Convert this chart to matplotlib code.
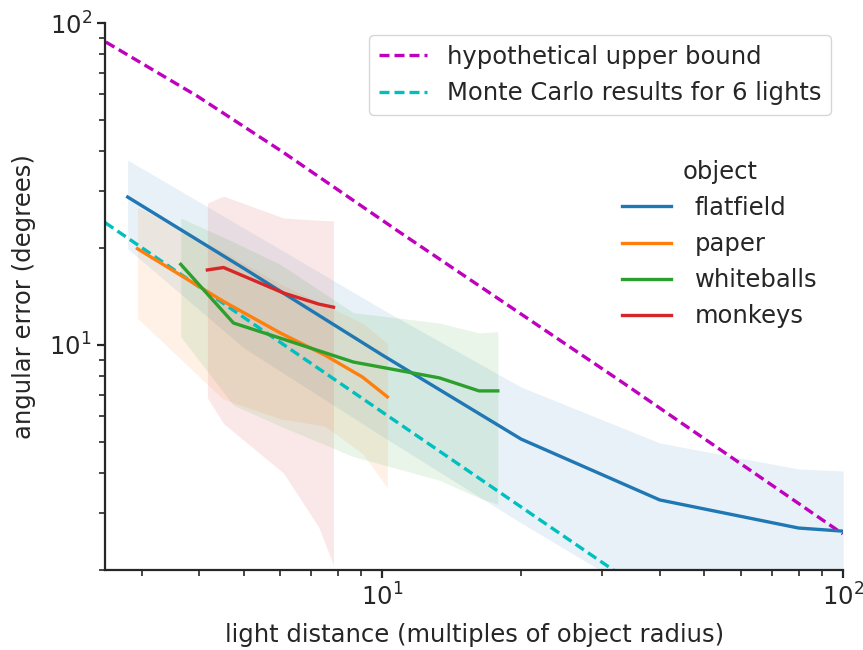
import numpy as np
import matplotlib
matplotlib.use("Agg")
import matplotlib.pyplot as plt

# flatfield
flat_x = [2.8, 5.0, 10.0, 20.0, 40.0, 80.0, 100.0]
flat_y = [28.8, 17.3, 9.3, 5.1, 3.3, 2.7, 2.64]
flat_lo = [19.9, 9.8, 5.2, 2.8, 1.55, 1.3, 1.2]
flat_hi = [37.5, 23.1, 12.9, 7.4, 4.96, 4.12, 4.06]

# paper
paper_x = [2.94, 4.5, 6.0, 7.5, 9.05, 10.25]
paper_y = [19.9, 13.7, 10.9, 9.3, 7.95, 6.9]
paper_lo = [12.1, 6.8, 5.9, 5.6, 4.6, 3.6]
paper_hi = [26.8, 19.5, 15.5, 13.3, 11.7, 10.1]

# whiteballs
balls_x = [3.65, 4.75, 6.0, 8.65, 13.3, 16.2, 17.8]
balls_y = [17.8, 11.7, 10.5, 8.85, 7.9, 7.2, 7.2]
balls_lo = [10.6, 6.5, 5.6, 4.5, 3.8, 3.35, 3.2]
balls_hi = [24.8, 20.9, 17.8, 12.6, 11.7, 10.9, 11.0]

# monkeys
monk_x = [4.17, 4.52, 6.1, 7.27, 7.83]
monk_y = [17.1, 17.4, 14.5, 13.4, 13.1]
monk_lo = [6.85, 5.7, 4.0, 2.72, 2.07]
monk_hi = [27.6, 29.0, 24.8, 24.4, 24.3]

upper_x = [2.51, 3.97, 6.07, 10.9, 33.1, 99.8]
upper_y = [87.3, 59.2, 39.8, 22.4, 7.67, 2.59]

mc_x = [2.5, 100.0]
mc_y = [24.0, 0.65]

objects = [
    ("flatfield", flat_x, flat_y, flat_lo, flat_hi, "tab:blue"),
    ("paper", paper_x, paper_y, paper_lo, paper_hi, "tab:orange"),
    ("whiteballs", balls_x, balls_y, balls_lo, balls_hi, "tab:green"),
    ("monkeys", monk_x, monk_y, monk_lo, monk_hi, "tab:red"),
]

ink = "#262626"
plt.rcParams.update({
    "font.size": 17.5,
    "text.color": ink,
    "axes.labelcolor": ink,
    "axes.edgecolor": ink,
    "xtick.color": ink,
    "ytick.color": ink,
})
fig = plt.figure(figsize=(8.63, 6.5), dpi=100)
ax = fig.add_axes([0.1217, 0.1231, 0.977 - 0.1217, 0.9646 - 0.1231])

lw = 2.4
dash = (3.0, 1.5)
l1, = ax.plot(upper_x, upper_y, "--", color="m", lw=lw, dashes=dash)
l2, = ax.plot(mc_x, mc_y, "--", color="c", lw=lw, dashes=dash)

handles = []
for name, x, y, lo, hi, c in objects:
    ax.fill_between(x, lo, hi, color=c, alpha=0.1, lw=0)
    h, = ax.plot(x, y, color=c, lw=lw, label=name)
    handles.append(h)

ax.set_xscale("log")
ax.set_yscale("log")
ax.set_xlim(2.5, 100)
ax.set_ylim(2, 100)
ax.set_xlabel("light distance (multiples of object radius)", fontsize=17.5, labelpad=9)
ax.set_ylabel("angular error (degrees)", fontsize=17.5, labelpad=10)
for s in ["top", "right"]:
    ax.spines[s].set_visible(False)
for s in ["left", "bottom"]:
    ax.spines[s].set_linewidth(1.6)
ax.tick_params(which="major", length=6, width=1.6, labelsize=17.5)
ax.tick_params(which="minor", length=4, width=1.2)

leg1 = ax.legend([l1, l2], ["hypothetical upper bound", "Monte Carlo results for 6 lights"],
                 loc="upper right", fontsize=17.5, borderaxespad=0.5,
                 handlelength=2.0, framealpha=0.8)
ax.add_artist(leg1)
ax.legend(handles=handles, title="object", frameon=False, fontsize=17.5, title_fontsize=17.5,
          loc="upper right", bbox_to_anchor=(0.995, 0.79), handlelength=2.0,
          handletextpad=1.0, labelspacing=0.5)

fig.savefig("out.png", dpi=100)
